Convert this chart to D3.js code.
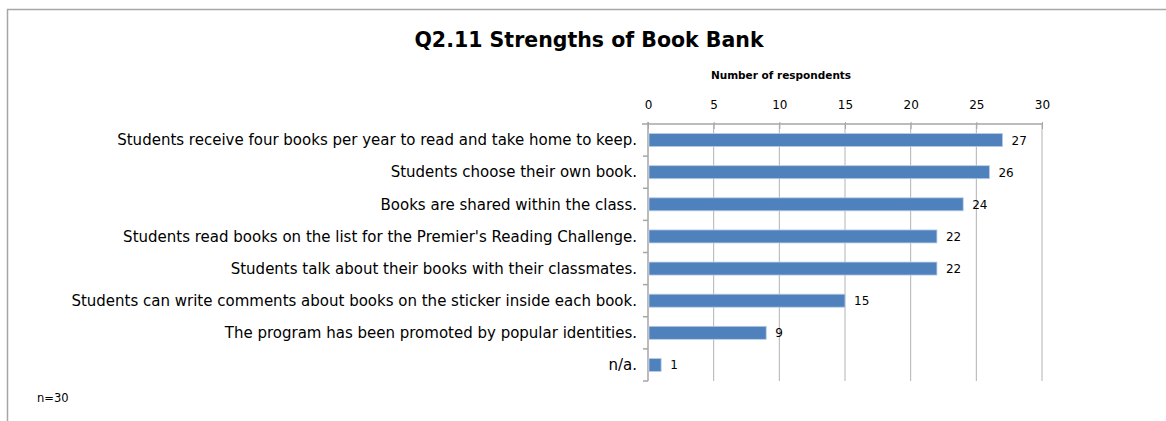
<!DOCTYPE html>
<html>
<head>
<meta charset="utf-8">
<script src="https://cdn.jsdelivr.net/npm/d3@7"></script>
<style>
  html, body { margin: 0; padding: 0; background: #fff; }
  svg { display: block; }
  text { font-family: "DejaVu Sans", Verdana, sans-serif; fill: #000; }
</style>
</head>
<body>
<svg id="chart" width="1166" height="421"></svg>
<script>
// Survey responses: strengths of Book Bank
const categories = [
  "Students receive four books per year to read and take home to keep.",
  "Students choose their own book.",
  "Books are shared within the class.",
  "Students read books on the list for the Premier's Reading Challenge.",
  "Students talk about their books with their classmates.",
  "Students can write comments about books on the sticker inside each book.",
  "The program has been promoted by popular identities.",
  "n/a."
];
const respondents = [27, 26, 24, 22, 22, 15, 9, 1];
const tickValues = [0, 5, 10, 15, 20, 25, 30];

const chartTitle = "Q2.11 Strengths of Book Bank";
const axisTitle = "Number of respondents";
const footnote = "n=30";

const svg = d3.select("#chart");
const W = 1166, H = 421;

// Chart frame (extends beyond the visible area on the right and bottom)
svg.append("rect")
  .attr("x", 7.5).attr("y", 9.5)
  .attr("width", W + 20).attr("height", H + 20)
  .attr("fill", "#fff")
  .attr("stroke", "#a6a6a6")
  .attr("stroke-width", 1.5);

const plot = { left: 648, right: 1042, top: 124, bottom: 381 };

const x = d3.scaleLinear().domain([0, 30]).range([plot.left, plot.right]);
const yBand = d3.scaleBand().domain(categories).range([plot.top, plot.bottom]);

// Title
svg.append("text")
  .attr("x", 589).attr("y", 47)
  .attr("text-anchor", "middle")
  .style("font-size", "20.5px").style("font-weight", "bold")
  .text(chartTitle);

// Axis title
svg.append("text")
  .attr("x", 781).attr("y", 79)
  .attr("text-anchor", "middle")
  .style("font-size", "10.5px").style("font-weight", "bold")
  .text(axisTitle);

// Vertical gridlines
svg.append("g").selectAll("line")
  .data(tickValues.slice(1))
  .join("line")
  .attr("x1", d => x(d)).attr("x2", d => x(d))
  .attr("y1", plot.top).attr("y2", plot.bottom)
  .attr("stroke", "#b3b3b3").attr("stroke-width", 1);

// Top value axis
const xAxis = d3.axisTop(x).tickValues(tickValues).tickSize(0).tickPadding(0);
const gx = svg.append("g").attr("transform", `translate(0,${plot.top})`).call(xAxis);
gx.select(".domain").remove();
gx.selectAll("text")
  .attr("y", -15)
  .style("font-size", "12px")
  .style("font-family", "DejaVu Sans, Verdana, sans-serif")
  .attr("fill", "#000");
gx.selectAll(".tick").append("line")
  .attr("y1", -2).attr("y2", 5)
  .attr("stroke", "#a6a6a6");
svg.append("line")
  .attr("x1", plot.left - 6).attr("x2", plot.right)
  .attr("y1", plot.top).attr("y2", plot.top)
  .attr("stroke", "#a6a6a6").attr("stroke-width", 1.5);

// Category axis
svg.append("line")
  .attr("x1", plot.left).attr("x2", plot.left)
  .attr("y1", plot.top - 2).attr("y2", plot.bottom)
  .attr("stroke", "#a6a6a6").attr("stroke-width", 1.5);
svg.append("g").selectAll("line")
  .data(categories)
  .join("line")
  .attr("x1", plot.left - 5).attr("x2", plot.left)
  .attr("y1", d => yBand(d) + yBand.bandwidth())
  .attr("y2", d => yBand(d) + yBand.bandwidth())
  .attr("stroke", "#a6a6a6").attr("stroke-width", 1.5);

svg.append("g").selectAll("text")
  .data(categories)
  .join("text")
  .attr("x", plot.left - 11)
  .attr("y", d => yBand(d) + yBand.bandwidth() / 2)
  .attr("dy", "0.35em")
  .attr("text-anchor", "end")
  .style("font-size", "15px")
  .text(d => d);

// Bars
const data = categories.map((c, i) => ({ c, v: respondents[i] }));
svg.append("g").selectAll("rect")
  .data(data)
  .join("rect")
  .attr("x", x(0) + 1)
  .attr("y", d => yBand(d.c) + yBand.bandwidth() / 2 - 6.5)
  .attr("width", d => x(d.v) - x(0) - 1)
  .attr("height", 13)
  .attr("fill", "#4f81bd")
  .attr("stroke", "#b9cde5")
  .attr("stroke-width", 0.8);

// Value labels
svg.append("g").selectAll("text")
  .data(data)
  .join("text")
  .attr("x", d => x(d.v) + 9)
  .attr("y", d => yBand(d.c) + yBand.bandwidth() / 2)
  .attr("dy", "0.38em")
  .style("font-size", "12px")
  .text(d => d.v);

// Footnote
svg.append("text")
  .attr("x", 37).attr("y", 402)
  .style("font-size", "11.5px")
  .text(footnote);
</script>
</body>
</html>
